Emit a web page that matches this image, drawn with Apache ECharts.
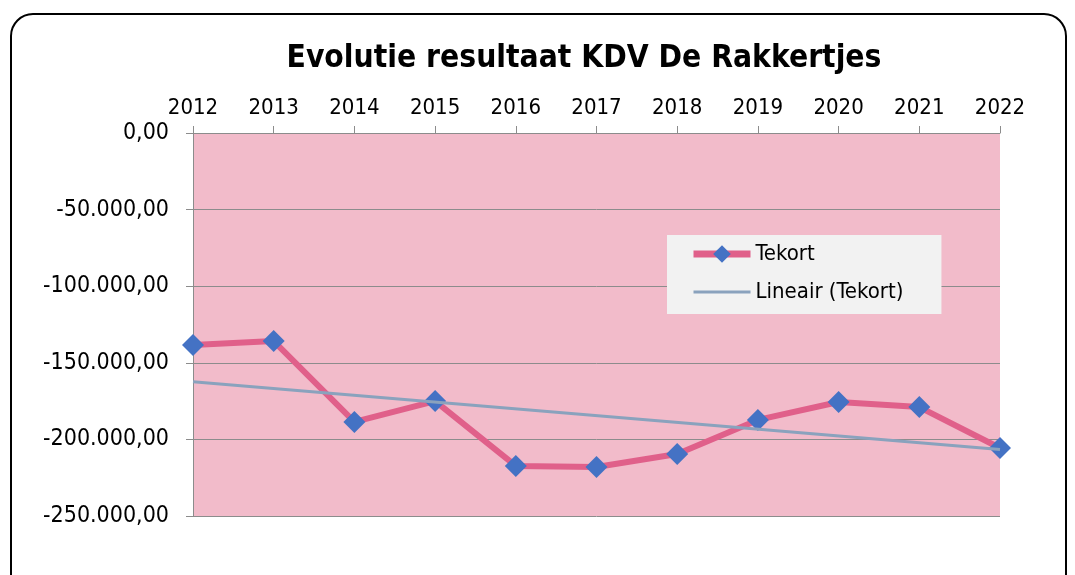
<!DOCTYPE html>
<html>
<head>
<meta charset="utf-8">
<script src="https://cdn.jsdelivr.net/npm/echarts@6/dist/echarts.min.js"></script>
<style>
  html, body { margin: 0; padding: 0; background: #fff; }
  #chart { width: 1075px; height: 575px; }
</style>
</head>
<body>
<div id="chart"></div>
<script>
// jaren (categorieën)
const years = ['2012', '2013', '2014', '2015', '2016', '2017', '2018', '2019', '2020', '2021', '2022'];
// resultaat per jaar
const tekort = [-138400, -135800, -188600, -175000, -217300, -218000, -209500, -187300, -175600, -178900, -205600];
const trendStart = -162400;
const trendEnd = -206600;

const trend = years.map((y, i) => i === 0 ? trendStart : (i === years.length - 1 ? trendEnd : null));

// 1234567 -> 1.234.567,00
function nlFormat(v) {
  const neg = v < 0;
  const s = Math.abs(Math.round(v)).toString().replace(/\B(?=(\d{3})+(?!\d))/g, '.');
  return (neg ? '-' : '') + s + ',00';
}

const myChart = echarts.init(document.getElementById('chart'));
const font = '"DejaVu Sans Condensed", "DejaVu Sans", sans-serif';

const option = {
  animation: false,
  textStyle: { fontFamily: font },
  title: {
    text: 'Evolutie resultaat KDV De Rakkertjes',
    left: 579,
    textAlign: 'center',
    top: 38,
    textStyle: { fontFamily: font, fontSize: 31.5, fontWeight: 'bold', color: '#000' }
  },
  graphic: [{
    type: 'rect',
    shape: { x: 11, y: 14, width: 1055, height: 620, r: 22 },
    style: { fill: 'none', stroke: '#000', lineWidth: 2 },
    z: -10
  }],
  grid: {
    left: 193,
    right: 75,
    top: 133,
    bottom: 59,
    show: true,
    backgroundColor: '#F2BBCA',
    borderWidth: 0
  },
  legend: {
    orient: 'vertical',
    left: 667,
    top: 235,
    backgroundColor: '#F2F2F2',
    padding: [8, 38, 11, 23],
    itemGap: 16,
    itemWidth: 57,
    itemHeight: 22,
    textStyle: { fontFamily: font, fontSize: 22, color: '#000' },
    data: [
      { name: 'Tekort', lineStyle: { width: 7 } },
      { name: 'Lineair (Tekort)', lineStyle: { width: 3 }, itemStyle: { opacity: 0 } }
    ]
  },
  xAxis: [{
    type: 'category',
    position: 'top',
    boundaryGap: false,
    data: years,
    axisLine: { show: true, lineStyle: { color: '#8c8c8c', width: 1 } },
    axisTick: { show: true, length: 7, lineStyle: { color: '#8c8c8c' } },
    axisLabel: { fontSize: 22, color: '#000', margin: 14, fontFamily: font },
    splitLine: { show: false }
  }],
  yAxis: [{
    type: 'value',
    min: -250000,
    max: 0,
    interval: 50000,
    axisLine: { show: true, lineStyle: { color: '#8c8c8c', width: 1 } },
    axisTick: { show: true, length: 7, lineStyle: { color: '#8c8c8c' } },
    axisLabel: { fontSize: 23, color: '#000', margin: 24, fontFamily: font, formatter: nlFormat },
    splitLine: { show: true, lineStyle: { color: '#8c8c8c', width: 1 } }
  }],
  series: [
    {
      name: 'Tekort',
      type: 'line',
      data: tekort,
      symbol: 'diamond',
      symbolSize: 22,
      lineStyle: { color: '#E0608A', width: 6 },
      itemStyle: { color: '#4472C4', borderWidth: 0 },
      z: 3
    },
    {
      name: 'Lineair (Tekort)',
      type: 'line',
      data: trend,
      connectNulls: true,
      symbol: 'none',
      lineStyle: { color: '#8AA2BD', width: 3 },
      itemStyle: { color: '#8AA2BD' },
      z: 4
    }
  ]
};
myChart.setOption(option, true);
</script>
</body>
</html>
